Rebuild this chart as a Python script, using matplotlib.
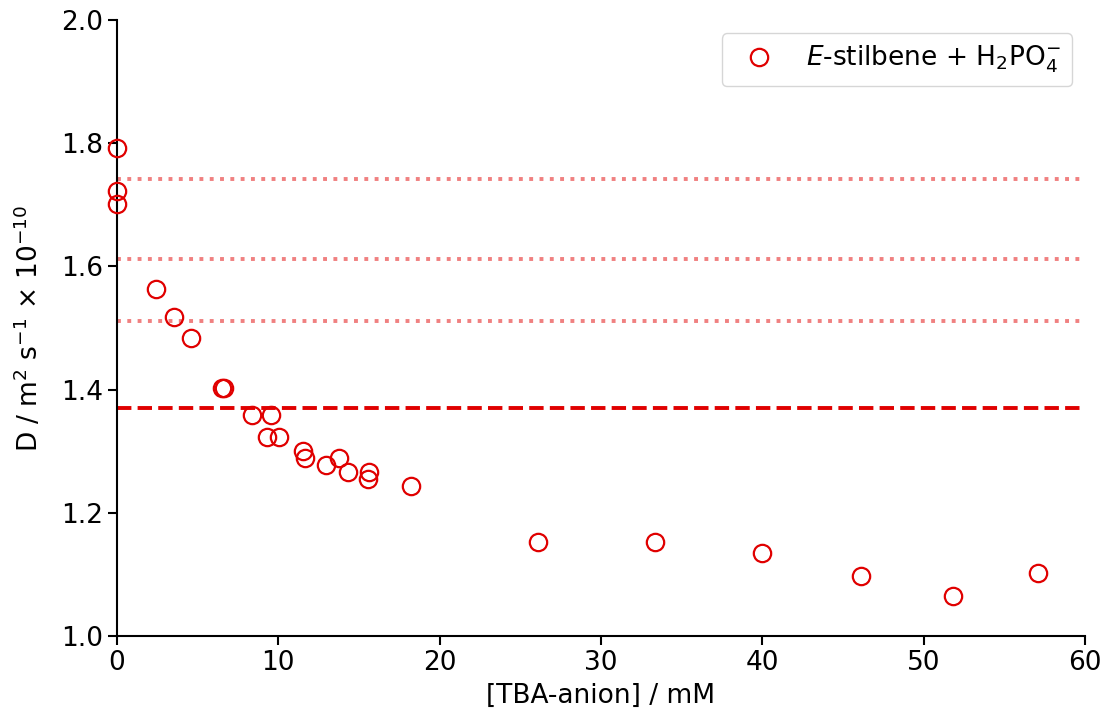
import matplotlib
matplotlib.use("Agg")
import matplotlib.pyplot as plt

conc = [0.0, 0.0, 0.0, 2.42, 3.53, 4.59, 6.51, 6.63, 8.37, 9.30, 9.55, 10.04,
        11.53, 11.66, 12.96, 13.76, 14.32, 15.56, 15.62, 18.23, 26.10, 33.35,
        39.99, 46.13, 51.83, 57.10]
diff = [1.792, 1.723, 1.701, 1.563, 1.518, 1.484, 1.403, 1.403, 1.359, 1.323,
        1.359, 1.323, 1.300, 1.289, 1.278, 1.289, 1.266, 1.255, 1.266, 1.244,
        1.153, 1.153, 1.135, 1.097, 1.065, 1.102]
dotted_levels = [1.742, 1.612, 1.511]
dashed_level = 1.370

plt.rcParams['font.family'] = ['DejaVu Sans']
plt.rcParams['mathtext.fontset'] = 'dejavusans'
plt.rcParams['font.size'] = 19
fig = plt.figure(figsize=(11.03, 7.16), dpi=100)
ax = fig.add_axes([0.106, 0.1117, 0.8777, 0.8603])

for lv in dotted_levels:
    ax.axhline(lv, color='#f08080', linestyle=':', linewidth=2.8, zorder=1)
ax.axhline(dashed_level, color='#e00000', linestyle='--', linewidth=2.8, zorder=1)

ax.plot(conc, diff, 'o', markerfacecolor='none', markeredgecolor='#e00000',
        markersize=12.5, markeredgewidth=1.6, clip_on=False, zorder=3,
        label=r'$E$-stilbene + H$_2$PO$_4^{-}$')

ax.set_xlim(0, 60)
ax.set_ylim(1.0, 2.0)
ax.set_xticks([0, 10, 20, 30, 40, 50, 60])
ax.set_yticks([1.0, 1.2, 1.4, 1.6, 1.8, 2.0])
ax.set_xlabel('[TBA-anion] / mM', labelpad=5)
ax.set_ylabel(r'D / m$^2$ s$^{-1}$ × 10$^{-10}$', labelpad=12)
ax.spines['top'].set_visible(False)
ax.spines['right'].set_visible(False)
ax.spines['left'].set_linewidth(1.5)
ax.spines['bottom'].set_linewidth(1.5)
ax.tick_params(width=1.5, length=6.5)
ax.legend(loc='upper right', fontsize=19)

fig.savefig('out.png', dpi=100)
